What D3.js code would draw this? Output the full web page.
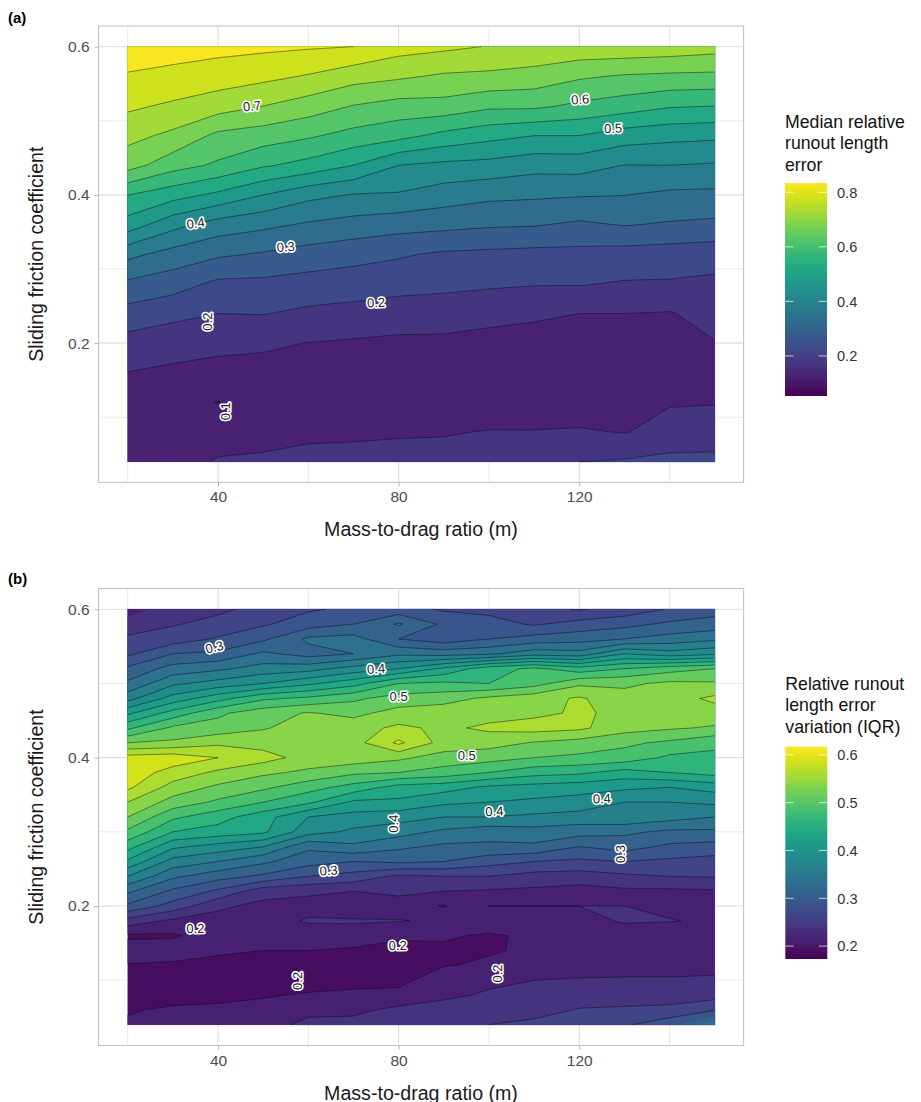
<!DOCTYPE html>
<html>
<head>
<meta charset="utf-8">
<script src="https://cdnjs.cloudflare.com/ajax/libs/d3/7.8.5/d3.min.js"></script>
<style>
html,body{margin:0;padding:0;background:#fff}
svg{display:block}
text{font-family:"Liberation Sans",Arial,sans-serif}
</style>
</head>
<body>
<svg id="chart" width="921" height="1102"></svg>
<script>
const massDrag = [20,30,40,50,60,70,80,90,100,110,120,130,140,150];
const frictionA = [.60,.56,.52,.48,.44,.40,.36,.32,.28,.24,.20,.16,.12,.08,.04];
const frictionB = [.60,.58,.56,.54,.52,.50,.48,.46,.44,.42,.40,.38,.36,.34,.32,.30,.28,.26,.24,.22,.20,.18,.16,.14,.12,.10,.08,.06,.04];

// panel (a): median relative runout length error, one list per mass-to-drag column
const medianByColumn = [
 [.83,.795,.759,.715,.671,.551,.478,.364,.29,.231,.181,.149,.125,.125,.13],
 [.82,.787,.742,.689,.62,.52,.417,.331,.272,.2125,.172,.14,.122,.122,.135],
 [.815,.775,.723,.638,.592,.489,.378,.308,.239,.2,.162,.135,.098,.135,.153],
 [.81,.763,.70,.625,.556,.45,.362,.295,.238,.202,.157,.135,.125,.135,.157],
 [.805,.746,.676,.607,.533,.414,.344,.28,.23,.19,.149,.133,.125,.14,.165],
 [.80,.72,.648,.583,.50,.397,.331,.268,.224,.184,.144,.131,.124,.14,.17],
 [.77,.708,.631,.566,.45,.395,.32,.256,.218,.175,.14,.13,.123,.143,.175],
 [.76,.693,.632,.536,.438,.375,.315,.243,.213,.172,.14,.13,.123,.147,.165],
 [.748,.689,.61,.516,.433,.362,.307,.239,.208,.162,.137,.13,.123,.152,.18],
 [.74,.68,.61,.50,.418,.358,.304,.235,.203,.156,.135,.128,.122,.152,.185],
 [.735,.657,.59,.50,.42,.354,.292,.235,.203,.15,.133,.128,.122,.155,.20],
 [.735,.645,.575,.475,.399,.351,.303,.23,.196,.15,.135,.128,.125,.148,.205],
 [.73,.64,.555,.465,.40,.34,.295,.226,.195,.147,.135,.13,.147,.165,.215],
 [.72,.638,.55,.46,.395,.338,.29,.22,.19,.167,.148,.14,.147,.18,.21]
];

// panel (b): relative runout length error variation (IQR), one list per friction row
const iqrByRow = [
 [.215,.235,.245,.258,.272,.28,.285,.272,.268,.258,.248,.26,.277,.29],
 [.235,.248,.258,.272,.288,.30,.328,.295,.285,.272,.285,.292,.305,.31],
 [.255,.262,.278,.295,.33,.335,.30,.285,.30,.31,.315,.325,.335,.345],
 [.27,.30,.305,.33,.315,.325,.345,.34,.345,.365,.36,.40,.385,.395],
 [.305,.335,.345,.36,.365,.385,.40,.43,.465,.48,.46,.475,.49,.50],
 [.33,.37,.385,.40,.42,.44,.475,.48,.475,.49,.52,.52,.53,.528],
 [.365,.41,.44,.47,.48,.495,.51,.515,.53,.54,.553,.535,.54,.555],
 [.42,.46,.495,.515,.527,.518,.535,.54,.54,.545,.553,.545,.545,.54],
 [.47,.505,.51,.523,.535,.54,.555,.545,.555,.56,.555,.535,.528,.522],
 [.525,.53,.545,.54,.535,.54,.58,.54,.535,.523,.515,.505,.495,.48],
 [.585,.59,.575,.56,.54,.54,.53,.515,.51,.50,.495,.49,.47,.47],
 [.59,.565,.545,.53,.52,.505,.50,.49,.475,.46,.455,.44,.45,.46],
 [.58,.54,.52,.505,.485,.465,.44,.435,.42,.415,.41,.405,.40,.41],
 [.55,.515,.495,.475,.455,.42,.42,.405,.40,.395,.39,.375,.375,.38],
 [.525,.48,.46,.435,.40,.39,.385,.375,.375,.37,.365,.37,.36,.35],
 [.495,.45,.44,.43,.385,.37,.36,.345,.335,.34,.335,.33,.32,.32],
 [.46,.405,.39,.375,.33,.345,.33,.32,.32,.32,.30,.31,.295,.29],
 [.42,.365,.35,.33,.31,.30,.305,.30,.285,.275,.27,.275,.27,.265],
 [.375,.33,.31,.295,.275,.265,.245,.25,.25,.24,.238,.245,.25,.252],
 [.33,.295,.27,.235,.23,.225,.23,.225,.222,.22,.215,.22,.22,.222],
 [.295,.265,.23,.218,.215,.205,.215,.198,.225,.225,.225,.225,.22,.205],
 [.24,.22,.215,.212,.228,.228,.226,.222,.222,.22,.215,.228,.226,.222],
 [.195,.197,.212,.21,.21,.212,.205,.205,.195,.207,.21,.21,.21,.21],
 [.215,.212,.205,.20,.20,.197,.19,.192,.197,.205,.207,.207,.208,.208],
 [.198,.196,.19,.19,.188,.186,.195,.198,.205,.208,.208,.207,.207,.205],
 [.185,.185,.185,.185,.187,.192,.19,.22,.22,.225,.228,.23,.23,.235],
 [.185,.187,.19,.197,.203,.205,.21,.22,.228,.232,.235,.24,.235,.24],
 [.197,.205,.208,.21,.222,.22,.23,.235,.235,.238,.252,.253,.258,.272],
 [.205,.205,.21,.22,.228,.232,.235,.24,.25,.258,.258,.272,.29,.345]
];

const levelsA = [.05,.10,.15,.20,.25,.30,.35,.40,.45,.50,.55,.60,.65,.70,.75,.80];
const levelsB = [.175,.20,.225,.25,.275,.30,.325,.35,.375,.40,.425,.45,.475,.50,.525,.55,.575];

const colourDomainA = [.053,.834];
const colourDomainB = [.173,.617];

const xTicks = [40,80,120], xMinor = [20,60,100,140];
const yTicks = [.2,.4,.6], yMinor = [.1,.3,.5];
const legendTicksA = [.2,.4,.6,.8];
const legendTicksB = [.2,.3,.4,.5,.6];
const legendTitleA = ["Median relative","runout length","error"];
const legendTitleB = ["Relative runout","length error","variation (IQR)"];

// contour labels: text, mass-to-drag, friction, rotation
const labelsA = [
 ["0.7",47.5,.52,-6],["0.6",120.2,.529,-4],["0.5",127.5,.49,-2],["0.4",35,.362,-8],
 ["0.3",55,.33,-4],["0.2",75,.255,-3],["0.2",37.7,.229,-90],["0.1",41.6,.108,-90]
];
const labelsB = [
 ["0.3",39.2,.549,-14],["0.4",75,.52,-4],["0.5",80,.483,0],["0.5",95.1,.403,0],
 ["0.4",125,.345,-2],["0.4",101.2,.328,-3],["0.4",78.8,.311,-90],["0.3",129.1,.27,-90],
 ["0.3",64.5,.248,-5],["0.2",35,.17,-2],["0.2",79.8,.147,-2],["0.2",101.8,.109,-90],["0.2",57.5,.099,-90]
];

const svg = d3.select("#chart");
const defs = svg.append("defs");

function panel(opt){
  const g = svg.append("g");
  const x = d3.scaleLinear().domain([20,150]).range([127.7,714.7]);
  const y = d3.scaleLinear().domain([.04,.6]).range(opt.yRange);
  const L = 98.6, R = 743.6, T = opt.panelTop, B = opt.panelBottom;
  const grid = "#dedede";
  xMinor.forEach(v=>g.append("line").attr("x1",x(v)).attr("x2",x(v)).attr("y1",T).attr("y2",B).attr("stroke",grid).attr("stroke-width",.6));
  yMinor.forEach(v=>g.append("line").attr("y1",y(v)).attr("y2",y(v)).attr("x1",L).attr("x2",R).attr("stroke",grid).attr("stroke-width",.6));
  xTicks.forEach(v=>g.append("line").attr("x1",x(v)).attr("x2",x(v)).attr("y1",T).attr("y2",B).attr("stroke",grid).attr("stroke-width",1.1));
  yTicks.forEach(v=>g.append("line").attr("y1",y(v)).attr("y2",y(v)).attr("x1",L).attr("x2",R).attr("stroke",grid).attr("stroke-width",1.1));

  const n = opt.columns.length, m = opt.rows.length;
  const values = d3.merge(opt.grid);
  const colIdx = d3.scaleLinear().domain(d3.range(n).map(i=>i+.5)).range(opt.columns).clamp(true);
  const rowIdx = d3.scaleLinear().domain(d3.range(m).map(i=>i+.5)).range(opt.rows).clamp(true);
  const colour = d3.scaleSequential(d3.interpolateViridis).domain(opt.colourDomain);
  const cs = d3.contours().size([n,m]).thresholds(opt.levels)(values);
  const path = d3.geoPath(d3.geoTransform({point(a,b){this.stream.point(x(colIdx(a)),y(rowIdx(b)));}}));
  const step = opt.levels[1]-opt.levels[0];
  g.append("g").selectAll("path").data(cs).join("path")
    .attr("d",path)
    .attr("fill",d=>colour(d.value+step/2))
    .attr("stroke",d=>colour(d.value+step/2))
    .attr("stroke-width",.2);
  // contour lines: each ring without the stretches lying on the plot boundary
  const onEdge = p => p[0]<=.5 || p[0]>=n-.5 || p[1]<=.5 || p[1]>=m-.5;
  let lineD = "";
  cs.forEach(c=>c.coordinates.forEach(poly=>poly.forEach(ring=>{
    for(let i=0;i<ring.length-1;i++){
      const a=ring[i], b=ring[i+1];
      if(onEdge(a)&&onEdge(b)) continue;
      lineD += "M"+x(colIdx(a[0])).toFixed(2)+","+y(rowIdx(a[1])).toFixed(2)+"L"+x(colIdx(b[0])).toFixed(2)+","+y(rowIdx(b[1])).toFixed(2);
    }
  })));
  g.append("path").attr("d",lineD).attr("fill","none").attr("stroke","#0a0a14").attr("stroke-width",.55).attr("stroke-opacity",.85);

  g.append("rect").attr("x",L).attr("y",T).attr("width",R-L).attr("height",B-T).attr("fill","none").attr("stroke","#c4c4c4").attr("stroke-width",1.1);

  const ax = g.append("g").attr("transform",`translate(0,${B})`).call(d3.axisBottom(x).tickValues(xTicks).tickSize(4).tickPadding(5).tickFormat(d3.format("d")));
  const ay = g.append("g").attr("transform",`translate(${L},0)`).call(d3.axisLeft(y).tickValues(yTicks).tickSize(4).tickPadding(5).tickFormat(d3.format(".1f")));
  [ax,ay].forEach(a=>{
    a.select(".domain").remove();
    a.selectAll("line").attr("stroke","#b5b5b5").attr("stroke-width",1);
    a.selectAll("text").attr("fill","#4d4d4d").attr("font-size",15.5).attr("font-family",'"Liberation Sans",Arial,sans-serif');
  });

  g.append("text").attr("x",421).attr("y",B+54).attr("text-anchor","middle").attr("font-size",19.6).attr("fill","#1a1a1a").text("Mass-to-drag ratio (m)");
  g.append("text").attr("transform",`translate(43,${(T+B)/2}) rotate(-90)`).attr("text-anchor","middle").attr("font-size",19.6).attr("fill","#1a1a1a").text("Sliding friction coefficient");
  g.append("text").attr("x",8).attr("y",opt.tagY).attr("font-size",15).attr("font-weight","bold").attr("fill","#000").text(opt.tag);

  const lab = g.append("g").selectAll("text").data(opt.labels).join("text")
    .attr("transform",d=>`translate(${x(d[1])},${y(d[2])}) rotate(${d[3]})`)
    .attr("text-anchor","middle").attr("dy","0.36em").attr("font-size",13)
    .attr("fill","#222").attr("stroke","#fff").attr("stroke-width",3.2).attr("stroke-linejoin","round")
    .attr("paint-order","stroke").text(d=>d[0]);

  // legend
  const lx = opt.legendX, lw = 42;
  const ly = d3.scaleLinear().domain(opt.colourDomain).range(opt.legendRange);
  const id = "grad"+opt.tag.replace(/\W/g,"");
  const gr = defs.append("linearGradient").attr("id",id).attr("x1",0).attr("x2",0).attr("y1",1).attr("y2",0);
  d3.range(0,1.0001,.05).forEach(t=>gr.append("stop").attr("offset",t).attr("stop-color",d3.interpolateViridis(t)));
  g.append("rect").attr("x",lx).attr("y",opt.legendRange[1]).attr("width",lw).attr("height",opt.legendRange[0]-opt.legendRange[1]).attr("fill",`url(#${id})`);
  opt.legendTicks.forEach(v=>{
    g.append("line").attr("x1",lx).attr("x2",lx+8.4).attr("y1",ly(v)).attr("y2",ly(v)).attr("stroke","#fff").attr("stroke-width",.7);
    g.append("line").attr("x1",lx+lw-8.4).attr("x2",lx+lw).attr("y1",ly(v)).attr("y2",ly(v)).attr("stroke","#fff").attr("stroke-width",.7);
    g.append("text").attr("x",lx+52).attr("y",ly(v)).attr("dy","0.36em").attr("font-size",14.6).attr("fill","#333").text(d3.format(".1f")(v));
  });
  opt.legendTitle.forEach((s,i)=>g.append("text").attr("x",lx).attr("y",opt.legendTitleY+i*21.4).attr("font-size",17.7).attr("fill","#111").text(s));
}

panel({tag:"(a)",tagY:23,columns:massDrag,rows:frictionA,grid:d3.transpose(medianByColumn),levels:levelsA,colourDomain:colourDomainA,
  yRange:[461.7,46.7],panelTop:26,panelBottom:482.4,labels:labelsA,legendX:785,legendRange:[396,183],legendTicks:legendTicksA,
  legendTitle:legendTitleA,legendTitleY:128});
panel({tag:"(b)",tagY:584,columns:massDrag,rows:frictionB,grid:iqrByRow,levels:levelsB,colourDomain:colourDomainB,
  yRange:[1024.7,609.3],panelTop:588.5,panelBottom:1045.5,labels:labelsB,legendX:785.3,legendRange:[959,746.7],legendTicks:legendTicksB,
  legendTitle:legendTitleB,legendTitleY:690});
</script>
</body>
</html>
